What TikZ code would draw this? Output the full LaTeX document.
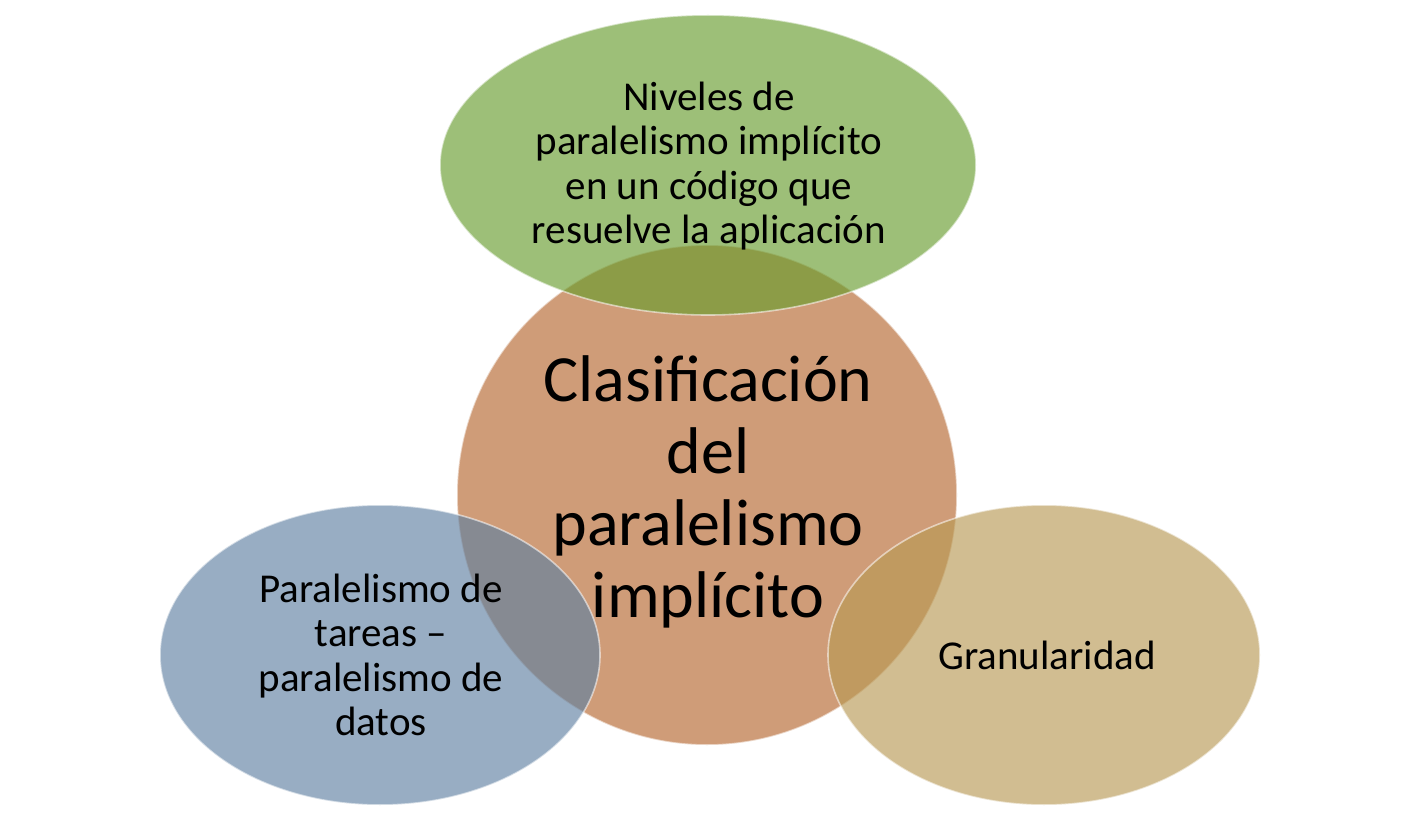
\documentclass[tikz,border=0pt]{standalone}
\usepackage{fontspec}
\setmainfont{Carlito}
\usetikzlibrary{shapes.geometric}
\definecolor{cOrange}{RGB}{207,156,120}
\definecolor{cGreen}{RGB}{103,156,44}
\definecolor{cBlue}{RGB}{94,128,162}
\definecolor{cTan}{RGB}{184,153,83}
\tikzset{
  blob/.style={ellipse, inner sep=0pt, draw=white, draw opacity=0.55, line width=1.6pt},
  tinted/.style={blob, fill opacity=0.64},
  smalltxt/.style={align=center, font=\fontsize{41}{44.5}\selectfont, inner sep=0pt},
  bigtxt/.style={align=center, font=\fontsize{66}{72}\selectfont, inner sep=0pt}
}
\begin{document}
\begin{tikzpicture}[x=1pt,y=-1pt]
\useasboundingbox (0,0) rectangle (1418,826);
\fill[white] (0,0) rectangle (1418,826);
% shapes
\node[blob, fill=cOrange, minimum width=500pt, minimum height=500pt] (center) at (707,495) {};
\node[tinted, fill=cGreen, minimum width=536pt, minimum height=300pt] (top) at (708,165) {};
\node[tinted, fill=cBlue, minimum width=440pt, minimum height=300pt] (left) at (380,655) {};
\node[tinted, fill=cTan, minimum width=432pt, minimum height=300pt] (right) at (1044,655) {};
% texts
\node[bigtxt] (centertxt) at (708,492) {Clasificación\\del\\paralelismo\\implícito};
\node[smalltxt] (toptxt) at (709,166) {Niveles de\\paralelismo implícito\\en un código que\\resuelve la aplicación};
\node[smalltxt] (lefttxt) at (381,655) {Paralelismo de\\tareas –\\paralelismo de\\datos};
\node[smalltxt] (righttxt) at (1047,655) {Granularidad};
\end{tikzpicture}
\end{document}
